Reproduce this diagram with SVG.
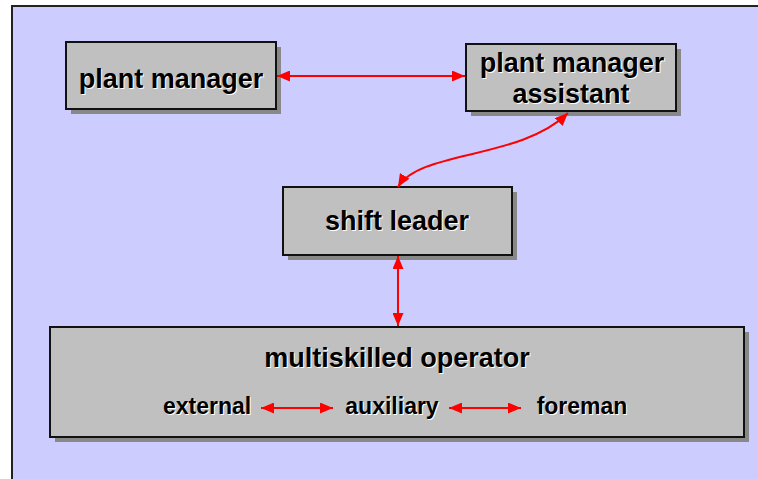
<svg xmlns="http://www.w3.org/2000/svg" width="758" height="479" viewBox="0 0 758 479">
<style>
.bg{fill:#ccccff;stroke:#222;stroke-width:2}
.shadow{fill:#888888}
.box{fill:#c0c0c0;stroke:#111;stroke-width:2}
.t{font-family:"Liberation Sans",Arial,sans-serif;font-weight:bold;font-size:27px;text-anchor:middle;fill:#000}
.ts{font-family:"Liberation Sans",Arial,sans-serif;font-weight:bold;font-size:27px;text-anchor:middle;fill:#fff}
.s{font-size:23px}
.c{fill:none;stroke:#ff0000;stroke-width:2}
</style>
<defs>
<marker id="ah" viewBox="0 0 13 11" refX="13" refY="5.5" markerWidth="13" markerHeight="11" markerUnits="userSpaceOnUse" orient="auto-start-reverse">
<path d="M0,0 L13,5.5 L0,11 z" fill="#ff0000"/>
</marker>
</defs>
<rect x="0" y="0" width="758" height="479" fill="#ffffff"/>
<rect class="bg" x="12" y="6" width="760" height="490"/>

<g id="plant-manager">
<rect class="shadow" x="71" y="47" width="210" height="67"/>
<rect class="box" x="66" y="42" width="210" height="67"/>
<text class="ts" x="172" y="89">plant manager</text>
<text class="t" x="171" y="88">plant manager</text>
</g>

<g id="plant-manager-assistant">
<rect class="shadow" x="471" y="49" width="210" height="67"/>
<rect class="box" x="466" y="44" width="210" height="67"/>
<text class="ts" x="573" y="73">plant manager</text>
<text class="t" x="572" y="72">plant manager</text>
<text class="ts" x="572" y="104">assistant</text>
<text class="t" x="571" y="103">assistant</text>
</g>

<g id="shift-leader">
<rect class="shadow" x="288" y="192" width="229" height="68"/>
<rect class="box" x="283" y="187" width="229" height="68"/>
<text class="ts" x="398" y="231">shift leader</text>
<text class="t" x="397" y="230">shift leader</text>
</g>

<g id="multiskilled-operator">
<rect class="shadow" x="55" y="332" width="694" height="110"/>
<rect class="box" x="50" y="327" width="694" height="110"/>
<text class="ts" x="398" y="368">multiskilled operator</text>
<text class="t" x="397" y="367">multiskilled operator</text>
<text class="ts s" x="208" y="415">external</text>
<text class="t s" x="207" y="414">external</text>
<text class="ts s" x="393" y="415">auxiliary</text>
<text class="t s" x="392" y="414">auxiliary</text>
<text class="ts s" x="583" y="415">foreman</text>
<text class="t s" x="582" y="414">foreman</text>
</g>

<g id="connectors">
<line class="c" x1="277" y1="76" x2="465" y2="76" marker-start="url(#ah)" marker-end="url(#ah)"/>
<path class="c" d="M398,187 C420,150 520,160 568,113" marker-start="url(#ah)" marker-end="url(#ah)"/>
<line class="c" x1="398" y1="256" x2="398" y2="326" marker-start="url(#ah)" marker-end="url(#ah)"/>
<line class="c" x1="261" y1="408" x2="333" y2="408" marker-start="url(#ah)" marker-end="url(#ah)"/>
<line class="c" x1="449" y1="408" x2="521" y2="408" marker-start="url(#ah)" marker-end="url(#ah)"/>
</g>
</svg>
